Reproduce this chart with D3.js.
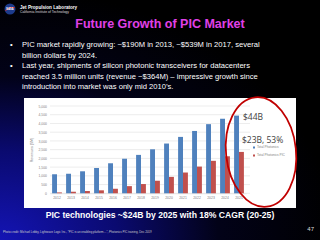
<!DOCTYPE html>
<html>
<head>
<meta charset="utf-8">
<script src="https://cdn.jsdelivr.net/npm/d3@7"></script>
<style>
  html, body { margin: 0; padding: 0; background: #000; }
  svg { display: block; }
</style>
</head>
<body>
<script>
// data
var years = ["2012", "2013", "2014", "2015", "2016", "2017", "2018", "2019", "2020", "2021", "2022", "2023", "2024", "2025"];
var totalPhotonics = [1090, 1120, 1260, 1450, 1720, 1980, 2200, 2520, 2850, 3230, 3570, 3960, 4270, 4450];
var totalPhotonicsPIC = [50, 90, 130, 170, 260, 410, 530, 720, 940, 1190, 1530, 1860, 2120, 2370];
var yTicks = [0, 500, 1000, 1500, 2000, 2500, 3000, 3500, 4000, 4500, 5000];
var seriesNames = ["Total Photonics", "Total Photonics PIC"];
var bullets = [
  ["PIC market rapidly growing: ~$190M in 2013, ~$539M in 2017, several", "billion dollars by 2024."],
  ["Last year, shipments of silicon photonic transceivers for datacenters", "reached 3.5 million units (revenue ~$364M) \u2013 impressive growth since", "introduction into market was only mid 2010\u2019s."]
];

var W = 320, H = 240;
var svg = d3.select("body").append("svg").attr("width", W).attr("height", H);

// background: black with blue glow from bottom-left
var defs = svg.append("defs");
var grad = defs.append("radialGradient").attr("id", "bg")
  .attr("cx", 0).attr("cy", 1).attr("r", 1.05);
grad.append("stop").attr("offset", "0%").attr("stop-color", "#1414b4");
grad.append("stop").attr("offset", "35%").attr("stop-color", "#0a0a70");
grad.append("stop").attr("offset", "65%").attr("stop-color", "#020218");
grad.append("stop").attr("offset", "100%").attr("stop-color", "#000");
svg.append("rect").attr("width", W).attr("height", H).attr("fill", "url(#bg)");

// JPL header
var logo = svg.append("g");
logo.append("circle").attr("cx", 10).attr("cy", 9).attr("r", 5.5).attr("fill", "#1d3b8c");
logo.append("path").attr("d", "M5.5 10.5 Q10 6 14.5 7.5").attr("stroke", "#d22").attr("stroke-width", 1).attr("fill", "none");
logo.append("text").attr("x", 10).attr("y", 10.2).attr("text-anchor", "middle")
  .attr("font-family", "Liberation Sans, Arial").attr("font-size", 2.6).attr("font-weight", "bold")
  .attr("fill", "#fff").text("NASA");
svg.append("text").attr("x", 20).attr("y", 8.5).attr("font-family", "Liberation Sans, Arial")
  .attr("font-size", 4.6).attr("font-weight", "bold").attr("fill", "#fff").text("Jet Propulsion Laboratory");
svg.append("text").attr("x", 20).attr("y", 12.5).attr("font-family", "Liberation Sans, Arial")
  .attr("font-size", 3.4).attr("fill", "#ddd").text("California Institute of Technology");

// title
svg.append("text").attr("x", 160).attr("y", 28).attr("text-anchor", "middle")
  .attr("font-family", "Liberation Sans, Arial").attr("font-size", 12.5).attr("font-weight", "bold")
  .attr("fill", "#e040e8").text("Future Growth of PIC Market");

// bullets
var by = 47;
bullets.forEach(function(lines) {
  svg.append("text").attr("x", 10).attr("y", by).attr("font-family", "Liberation Sans, Arial")
    .attr("font-size", 7.6).attr("fill", "#fff").text("\u2022");
  lines.forEach(function(l) {
    svg.append("text").attr("x", 22).attr("y", by).attr("font-family", "Liberation Sans, Arial")
      .attr("font-size", 7.6).attr("fill", "#fff").text(l);
    by += 10.6;
  });
});

// chart panel
svg.append("rect").attr("x", 24).attr("y", 98).attr("width", 272).attr("height", 110).attr("fill", "#fff");

var x = d3.scaleBand().domain(years).range([50, 246]).paddingInner(0.3).paddingOuter(0.15);
var y = d3.scaleLinear().domain([0, 5000]).range([193.3, 106]);
var x1 = d3.scaleBand().domain([0, 1]).range([0, x.bandwidth()]);

var chart = svg.append("g");
chart.selectAll("line.grid").data(yTicks).enter().append("line")
  .attr("x1", 50).attr("x2", 250)
  .attr("y1", function(d) { return y(d); }).attr("y2", function(d) { return y(d); })
  .attr("stroke", "#d9d9d9").attr("stroke-width", 0.5);

var yAxis = chart.append("g").attr("transform", "translate(49,0)")
  .call(d3.axisLeft(y).tickValues(yTicks).tickSize(0).tickPadding(2));
yAxis.select(".domain").remove();
yAxis.selectAll("text").attr("font-size", 3.4).attr("fill", "#7f7f7f").attr("font-family", "Liberation Sans, Arial");

var xAxis = chart.append("g").attr("transform", "translate(0,193.3)")
  .call(d3.axisBottom(x).tickSize(0).tickPadding(3));
xAxis.select(".domain").attr("stroke", "#d9d9d9").attr("stroke-width", 0.5);
xAxis.selectAll("text").attr("font-size", 3.4).attr("fill", "#7f7f7f").attr("font-family", "Liberation Sans, Arial");

chart.append("text").attr("transform", "translate(33,150) rotate(-90)").attr("text-anchor", "middle")
  .attr("font-size", 3.6).attr("fill", "#7f7f7f").attr("font-family", "Liberation Sans, Arial")
  .text("Revenues ($M)");

var colors = ["#4f81bd", "#c0504d"];
[totalPhotonics, totalPhotonicsPIC].forEach(function(vals, s) {
  chart.selectAll("rect.s" + s).data(vals).enter().append("rect")
    .attr("x", function(d, i) { return x(years[i]) + x1(s); })
    .attr("width", x1.bandwidth())
    .attr("y", function(d) { return y(d); })
    .attr("height", function(d) { return y(0) - y(d); })
    .attr("fill", colors[s]);
});

// legend
seriesNames.forEach(function(n, i) {
  chart.append("rect").attr("x", 253).attr("y", 146.5 + i * 8).attr("width", 2).attr("height", 2).attr("fill", colors[i]);
  chart.append("text").attr("x", 257).attr("y", 148.4 + i * 8).attr("font-size", 3.2)
    .attr("fill", "#7f7f7f").attr("font-family", "Liberation Sans, Arial").text(n);
});

// annotations
chart.append("text").attr("x", 243).attr("y", 120).attr("font-size", 8.5).attr("fill", "#404040")
  .attr("font-family", "Open Sans, Liberation Sans").text("$44B");
chart.append("text").attr("x", 242).attr("y", 143).attr("font-size", 8.5).attr("fill", "#404040")
  .attr("font-family", "Open Sans, Liberation Sans").text("$23B, 53%");

svg.append("ellipse").attr("cx", 261).attr("cy", 152).attr("rx", 35).attr("ry", 55)
  .attr("transform", "rotate(-6,261,152)")
  .attr("fill", "none").attr("stroke", "#c00000").attr("stroke-width", 1.8);

// caption
svg.append("text").attr("x", 160).attr("y", 218).attr("text-anchor", "middle")
  .attr("font-family", "Liberation Sans, Arial").attr("font-size", 8.6).attr("font-weight", "bold")
  .attr("fill", "#fff").text("PIC technologies ~$24B by 2025 with 18% CAGR (20-25)");

svg.append("text").attr("x", 3).attr("y", 233).attr("font-family", "Liberation Sans, Arial")
  .attr("font-size", 2.9).attr("fill", "#ccc")
  .text("Photo credit: Michael Lebby, Lightwave Logic Inc., \u201cPIC is an enabling platform\u2026\u201d, Photonics PIC training, Dec 2019");
svg.append("text").attr("x", 314).attr("y", 231).attr("text-anchor", "end").attr("font-family", "Liberation Sans, Arial")
  .attr("font-size", 6).attr("fill", "#ddd").text("47");
</script>
</body>
</html>
